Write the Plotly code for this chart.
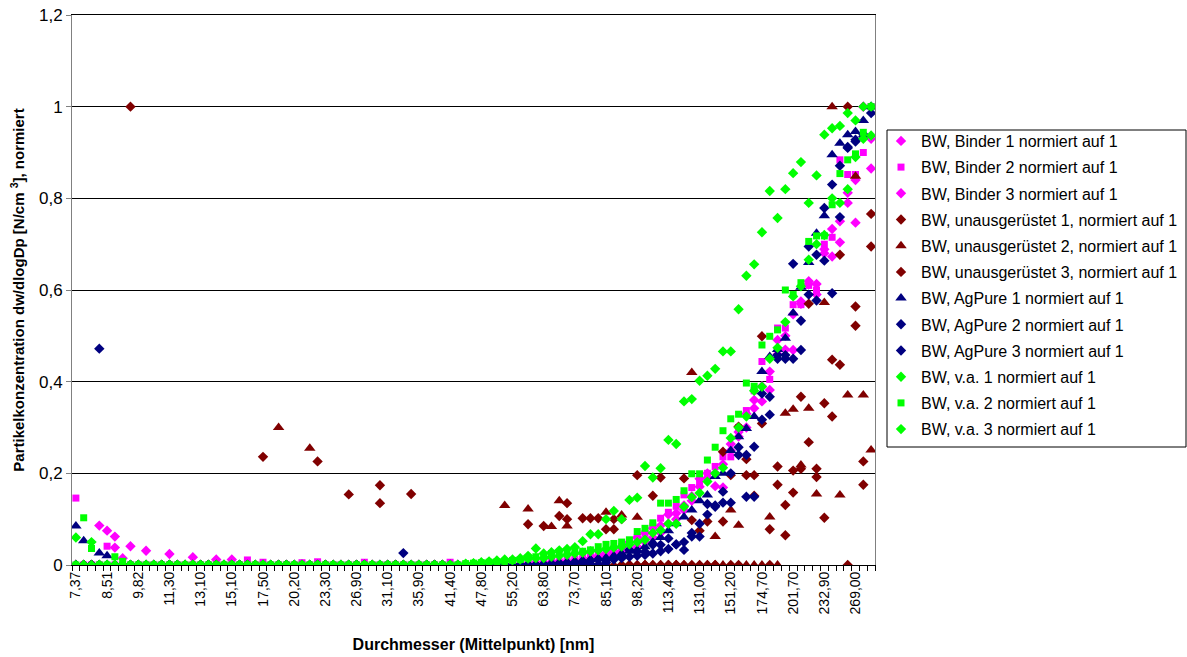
import plotly.graph_objects as go

# SMPS channel mid-points [nm]
diameters = [7.37, 7.64, 7.91, 8.20, 8.51, 8.82, 9.14, 9.47, 9.82, 10.2,
             10.6, 10.9, 11.3, 11.8, 12.2, 12.6, 13.1, 13.6, 14.1, 14.6,
             15.1, 15.7, 16.3, 16.8, 17.5, 18.1, 18.8, 19.5, 20.2, 20.9,
             21.7, 22.5, 23.3, 24.1, 25.0, 25.9, 26.9, 27.9, 28.9, 30.0,
             31.1, 32.2, 33.4, 34.6, 35.9, 37.2, 38.5, 40.0, 41.4, 42.9,
             44.5, 46.1, 47.8, 49.6, 51.4, 53.3, 55.2, 57.3, 59.4, 61.5,
             63.8, 66.1, 68.5, 71.0, 73.7, 76.4, 79.1, 82.0, 85.1, 88.2,
             91.4, 94.7, 98.2, 101.8, 105.5, 109.4, 113.4, 117.6, 121.9, 126.3,
             131.0, 135.8, 140.7, 145.9, 151.2, 156.8, 162.5, 168.5, 174.7, 181.1,
             187.7, 194.6, 201.7, 209.1, 216.7, 224.7, 232.9, 241.4, 250.3, 259.5,
             269.0, 278.8, 289.0]
labels = [f"{d:.2f}".replace(".", ",") for d in diameters]
Z10 = [0] * 10

binder1 = ([0, 0, 0, 0.086, 0.075, 0.062, 0, 0.041, 0, 0.031]
           + [0, 0, 0.024, 0, 0, 0.017, 0, 0, 0.012, 0]
           + [0.012, 0, 0, 0, 0, 0, 0, 0, 0, 0]
           + Z10 + Z10
           + [0, 0, 0, 0, 0, 0, 0, 0, 0.003, 0.004]
           + [0.005, 0.006, 0.008, 0.005, 0.01, 0.012, 0.015, 0.02, 0.025, 0.03]
           + [0.04, 0.05, 0.06, 0.07, 0.08, 0.086, 0.11, 0.113, 0.13, 0.15]
           + [0.171, 0.2, 0.172, 0.169, 0.264, 0.28, 0.3, 0.342, 0.357, 0.382]
           + [0.491, 0.47, 0.469, 0.575, 0.619, 0.59, 0.689, 0.673, 0.704, 0.812]
           + [0.747, 1.0, 0.865])
binder2 = ([0.146, 0, 0, 0, 0.041, 0, 0, 0, 0, 0]
           + Z10
           + [0, 0, 0.011, 0, 0.006, 0, 0, 0, 0, 0.005]
           + [0, 0.007, 0, 0, 0, 0, 0, 0.006, 0, 0]
           + [0, 0, 0, 0, 0, 0, 0, 0, 0.006, 0]
           + [0, 0, 0, 0, 0, 0.003, 0, 0, 0.004, 0.005]
           + [0.006, 0.008, 0.007, 0.01, 0.012, 0.015, 0.018, 0.022, 0.03, 0.035]
           + [0.04, 0.05, 0.06, 0.069, 0.085, 0.102, 0.115, 0.128, 0.153, 0.169]
           + [0.18, 0.2, 0.215, 0.236, 0.236, 0.3, 0.337, 0.38, 0.444, 0.405]
           + [0.517, 0.517, 0.568, 0.568, 0.61, 0.6, 0.7, 0.715, 0.884, 0.852]
           + [0.852, 0.9, 1.0])
binder3 = ([0, 0, 0, 0, 0, 0.038, 0.015, 0, 0, 0]
           + Z10 + Z10 + Z10 + Z10
           + [0, 0, 0, 0, 0, 0, 0, 0.003, 0, 0.004]
           + [0.004, 0.005, 0.006, 0.008, 0.007, 0.01, 0.012, 0.015, 0.02, 0.025]
           + [0.03, 0.035, 0.04, 0.05, 0.06, 0.07, 0.09, 0.1, 0.12, 0.14]
           + [0.188, 0.19, 0.2, 0.22, 0.25, 0.29, 0.33, 0.36, 0.39, 0.422]
           + [0.46, 0.5, 0.547, 0.57, 0.613, 0.613, 0.68, 0.733, 0.75, 0.79]
           + [0.84, 1.0, 0.93])
unaus1 = ([0, 0, 0, 0, 0, 0, 0, 1.0, 0, 0]
          + Z10
          + [0, 0, 0, 0, 0.236, 0, 0, 0, 0, 0]
          + [0, 0.226, 0, 0, 0, 0.154, 0, 0, 0, 0.174]
          + [0, 0, 0, 0.155, 0, 0, 0, 0, 0, 0]
          + [0, 0, 0, 0, 0, 0, 0, 0, 0.089, 0]
          + [0.085, 0, 0, 0.135, 0, 0.102, 0.102, 0.102, 0.078, 0.1]
          + [0, 0, 0.196, 0, 0.151, 0.191, 0, 0, 0.189, 0.098]
          + [0.075, 0.095, 0, 0.247, 0.196, 0.302, 0.231, 0.196, 0.499, 0.078]
          + [0.215, 0.131, 0.206, 0.367, 0.57, 0.21, 0.353, 0.448, 0.677, 0]
          + [0.564, 0.226, 0.766])
unaus2 = ([0, 0, 0, 0, 0, 0, 0, 0, 0, 0]
          + Z10
          + [0, 0, 0, 0, 0, 0, 0.30, 0, 0, 0]
          + [0.255, 0, 0, 0, 0, 0, 0, 0, 0, 0]
          + Z10
          + [0, 0, 0, 0, 0, 0.13, 0, 0, 0.122, 0]
          + [0, 0.084, 0.14, 0.085, 0, 0, 0, 0, 0.115, 0]
          + [0.109, 0, 0.104, 0, 0, 0, 0, 0, 0, 0.42]
          + [0, 0, 0.062, 0, 0.12, 0.087, 0, 0, 0, 0.105]
          + [0, 0.331, 0.34, 0.218, 0.342, 0.155, 0.573, 1.0, 0.153, 0.371]
          + [0.848, 0.371, 0.251])
unaus3 = (Z10 + Z10 + Z10
          + [0, 0, 0, 0, 0, 0, 0, 0, 0, 0.135]
          + Z10 + Z10
          + [0, 0, 0.107, 0.10, 0, 0, 0, 0, 0, 0.078]
          + [0.1, 0, 0, 0, 0, 0, 0, 0, 0, 0]
          + [0, 0, 0, 0.095, 0, 0, 0.196, 0.151, 0.309, 0]
          + [0.175, 0.065, 0.158, 0.21, 0.268, 0.192, 0.103, 0.324, 0.437, 1.0]
          + [0.522, 0.175, 0.695])
agpure1 = ([0.085, 0.053, 0, 0.026, 0.02, 0, 0, 0, 0, 0]
           + Z10 + Z10 + Z10 + Z10 + Z10
           + [0.003, 0.004, 0.005, 0.006, 0.008, 0.01, 0.012, 0.014, 0.016, 0.02]
           + [0.025, 0.03, 0.033, 0.04, 0.05, 0.06, 0.075, 0.09, 0.105, 0.12]
           + [0.14, 0.153, 0.193, 0.2, 0.25, 0.28, 0.298, 0.324, 0.422, 0.455]
           + [0.47, 0.495, 0.55, 0.606, 0.66, 0.724, 0.762, 0.895, 0.92, 0.939]
           + [0.946, 0.97, 1.0])
agpure2 = ([0, 0, 0, 0.472, 0, 0, 0, 0, 0, 0]
           + Z10 + Z10 + Z10 + Z10 + Z10
           + [0, 0, 0.003, 0.002, 0.004, 0.005, 0.003, 0, 0.005, 0.015]
           + [0.02, 0.033, 0.029, 0.029, 0.044, 0.044, 0.058, 0.045, 0.05, 0.062]
           + [0.062, 0.133, 0.127, 0.136, 0.136, 0.257, 0.149, 0.149, 0.317, 0.328]
           + [0.458, 0.458, 0.45, 0.469, 0.59, 0.577, 0.664, 0.593, 0.759, 0.91]
           + [0.928, 0.94, 0.986])
agpure3 = (Z10 + Z10 + Z10 + Z10
           + [0, 0, 0.026, 0, 0, 0, 0, 0, 0, 0]
           + Z10
           + [0.002, 0.003, 0.004, 0.005, 0.006, 0.008, 0.01, 0.012, 0.01, 0.012]
           + [0.015, 0.018, 0.02, 0.022, 0.025, 0.03, 0.035, 0.045, 0.033, 0.07]
           + [0.09, 0.11, 0.13, 0.16, 0.2, 0.24, 0.24, 0.258, 0.374, 0.367]
           + [0.45, 0.45, 0.657, 0.533, 0.695, 0.677, 0.779, 0.83, 0.871, 0.912]
           + [0.924, 0.935, 1.0])
va1 = ([0.06, 0, 0.05, 0, 0, 0, 0, 0, 0, 0]
       + Z10 + Z10 + Z10 + Z10
       + [0.003, 0.004, 0.006, 0.008, 0.01, 0.012, 0.012, 0.015, 0.02, 0.036]
       + [0.025, 0.028, 0.032, 0.035, 0.039, 0.052, 0.067, 0.067, 0.1, 0.118]
       + [0.1, 0.142, 0.147, 0.216, 0.191, 0.211, 0.273, 0.264, 0.357, 0.362]
       + [0.402, 0.413, 0.428, 0.466, 0.466, 0.558, 0.631, 0.656, 0.726, 0.816]
       + [0.757, 0.82, 0.855, 0.879, 0.79, 0.85, 0.939, 0.953, 0.958, 0.986]
       + [0.97, 1.0, 0.937])
va2 = ([0, 0.103, 0.036, 0, 0, 0.018, 0.008, 0, 0, 0]
       + Z10 + Z10 + Z10 + Z10
       + [0.003, 0.004, 0.005, 0.006, 0.007, 0.008, 0.01, 0.012, 0.015, 0.018]
       + [0.02, 0.025, 0.027, 0.03, 0.032, 0.03, 0.033, 0.04, 0.045, 0.047]
       + [0.05, 0.055, 0.073, 0.08, 0.092, 0.135, 0.135, 0.143, 0.162, 0.199]
       + [0.199, 0.229, 0.257, 0.293, 0.319, 0.329, 0.397, 0.39, 0.48, 0.499]
       + [0.513, 0.6, 0.59, 0.616, 0.706, 0.718, 0.718, 0.786, 0.854, 0.884]
       + [0.897, 0.944, 1.0])
va3 = (Z10 + Z10 + Z10 + Z10 + Z10
       + [0.002, 0.003, 0.004, 0.005, 0.006, 0.008, 0.01, 0.012, 0.014, 0.015]
       + [0.015, 0.018, 0.02, 0.022, 0.025, 0.027, 0.03, 0.032, 0.035, 0.038]
       + [0.04, 0.045, 0.05, 0.055, 0.07, 0.076, 0.09, 0.09, 0.127, 0.148]
       + [0.157, 0.182, 0.2, 0.212, 0.277, 0.3, 0.324, 0.38, 0.389, 0.45]
       + [0.474, 0.53, 0.586, 0.608, 0.666, 0.7, 0.72, 0.8, 0.79, 0.82]
       + [0.89, 0.93, 1.0])

MAGENTA, DKRED, NAVY, LIME = "#FF00FF", "#800000", "#000080", "#00FF00"
series = [
    ("BW, Binder 1 normiert auf 1", binder1, MAGENTA, "diamond", 8),
    ("BW, Binder 2 normiert auf 1", binder2, MAGENTA, "square", 7),
    ("BW, Binder 3 normiert auf 1", binder3, MAGENTA, "diamond", 8),
    ("BW, unausgerüstet 1, normiert auf 1", unaus1, DKRED, "diamond", 8),
    ("BW, unausgerüstet 2, normiert auf 1", unaus2, DKRED, "triangle-up", 10),
    ("BW, unausgerüstet 3, normiert auf 1", unaus3, DKRED, "diamond", 8),
    ("BW, AgPure 1 normiert auf 1", agpure1, NAVY, "triangle-up", 10),
    ("BW, AgPure 2 normiert auf 1", agpure2, NAVY, "diamond", 8),
    ("BW, AgPure 3 normiert auf 1", agpure3, NAVY, "diamond", 8),
    ("BW, v.a. 1 normiert auf 1", va1, LIME, "diamond", 8),
    ("BW, v.a. 2 normiert auf 1", va2, LIME, "square", 7),
    ("BW, v.a. 3 normiert auf 1", va3, LIME, "diamond", 8),
]

FONT = "Arial, Liberation Sans, sans-serif"
fig = go.Figure()
for k, (name, vals, col, sym, sz) in enumerate(series):
    assert len(vals) == len(labels), (name, len(vals))
    fig.add_trace(go.Scatter(
        x=labels, y=vals, mode="markers", name=name, legendgroup=f"g{k}",
        marker=dict(color=col, symbol=sym, size=sz, line=dict(width=0)),
    ))

L, R, T, B = 72, 312, 15, 92
W, H = 1187, 657
pw, ph = W - L - R, H - T - B

def px_x(x):
    return (x - L) / pw

def px_y(y):
    return (H - B - y) / ph

fig.update_layout(
    width=W, height=H, margin=dict(l=L, r=R, t=T, b=B, autoexpand=False),
    paper_bgcolor="white", plot_bgcolor="white",
    separators=",.",
    font=dict(family=FONT, color="black", size=13),
    showlegend=True,
    legend=dict(x=px_x(881), y=px_y(124), xanchor="left", yanchor="top",
                font=dict(family=FONT, size=16, color="black"),
                traceorder="grouped", tracegroupgap=2.4,
                bgcolor="rgba(0,0,0,0)", borderwidth=0, itemwidth=30),
    shapes=[dict(type="rect", xref="paper", yref="paper",
                 x0=px_x(887), x1=px_x(1186), y0=px_y(447), y1=px_y(130),
                 line=dict(color="black", width=1), fillcolor="rgba(0,0,0,0)")],
)
fig.update_xaxes(
    type="category", range=[-0.5, len(labels) - 0.5],
    tickmode="array", tickvals=labels,
    ticktext=[lab if i % 4 == 0 else "" for i, lab in enumerate(labels)],
    tickson="boundaries", ticks="outside", ticklen=5, tickcolor="black",
    tickangle=-90, tickfont=dict(family=FONT, size=14, color="black"),
    showgrid=False, showline=True, linecolor="black", linewidth=1, mirror=True,
    title=dict(text="<b>Durchmesser (Mittelpunkt) [nm]</b>",
               font=dict(family=FONT, size=16, color="black"), standoff=25),
    automargin=False,
)
fig.update_yaxes(
    range=[0, 1.2], dtick=0.2, tick0=0,
    ticks="outside", ticklen=5, tickcolor="#808080",
    tickfont=dict(family=FONT, size=17, color="black"),
    showgrid=True, gridcolor="black", gridwidth=1, zeroline=False,
    showline=True, linecolor="#808080", linewidth=1, mirror=True,
    title=dict(text="<b>Partikelkonzentration dw/dlogDp [N/cm <sup>3</sup>], normiert</b>",
               font=dict(family=FONT, size=15, color="black"), standoff=10),
    automargin=False,
)
fig.write_html("out.html", config={"displayModeBar": False},
               post_script="document.body.style.margin='0px';")
